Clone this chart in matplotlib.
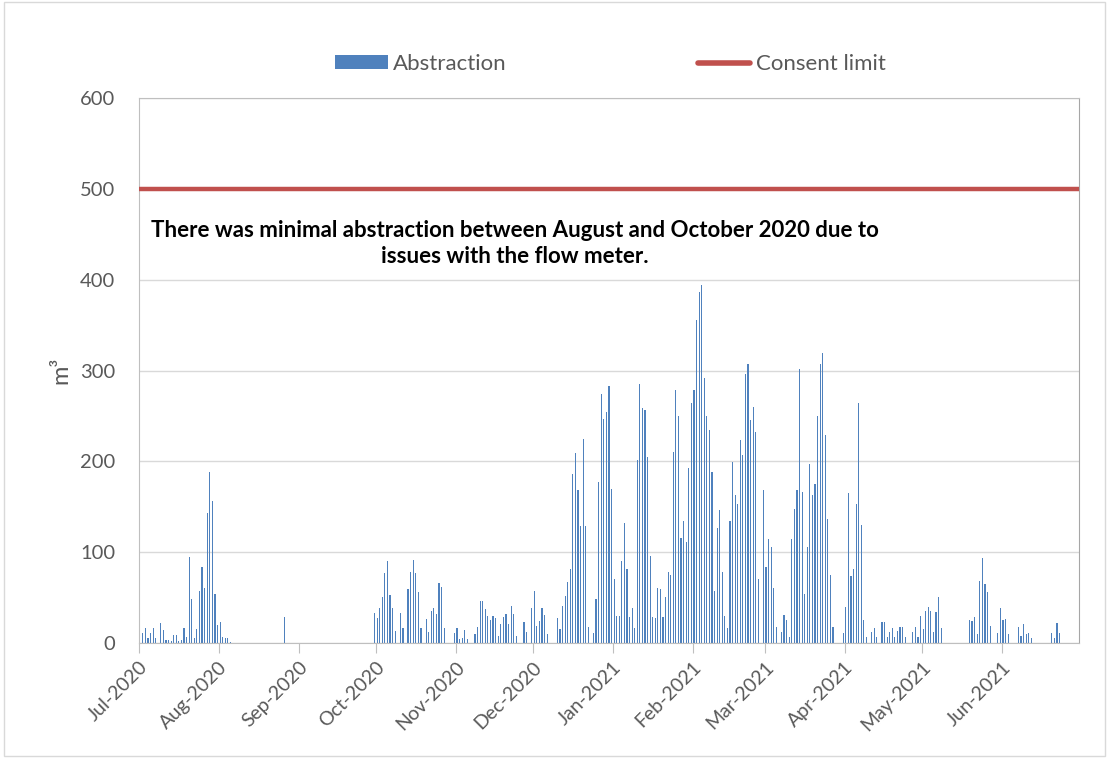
# Daily abstraction vs consent limit, Jul 2020 - Jun 2021

import numpy as np
import pandas as pd
import matplotlib
matplotlib.use("Agg")
import matplotlib.pyplot as plt
import matplotlib.dates as mdates
from matplotlib.patches import Patch, Rectangle
from matplotlib.lines import Line2D

plt.rcParams['font.family'] = ['Lato', 'DejaVu Sans']

# daily abstraction in m3, one list per month
jul_2020 = [0, 11, 17, 5, 11, 17, 5, 0, 22, 14, 3, 3, 2.5, 9, 9, 2.5,
            3, 17, 7, 95, 49, 5, 15, 57, 84, 61, 143, 188, 156, 54, 19.5]
aug_2020 = [23.5, 7, 5, 6, 1.5, 0, 0, 0, 0, 0, 0, 0, 0, 0, 0, 0,
            0, 0, 0, 0, 0, 0, 0, 0, 0, 29, 0, 0, 0, 0, 0]
sep_2020 = [0, 0, 0, 0, 0, 0, 0, 0, 0, 0, 0, 0, 0, 0, 0,
            0, 0, 0, 0, 0, 0, 0, 0, 0, 0, 0, 0, 0, 0, 33]
oct_2020 = [27, 38, 51, 77, 90, 53, 39, 13, 0, 33, 16, 0, 60, 78, 91, 77,
            56, 16, 0, 26, 12, 35, 38, 32, 66, 62, 16, 0, 0, 0, 11]
nov_2020 = [16, 4, 6, 14, 4, 0, 0, 10, 18, 46, 46, 37, 30, 25, 30,
            27, 8, 21, 29, 32, 21, 41, 32, 8, 0, 0, 23, 12, 0, 39]
dec_2020 = [57, 19, 24, 38, 31, 9.5, 0, 0, 0, 28, 15, 41, 52, 67, 81, 186,
            209, 168, 129, 225, 129, 18, 0, 11, 49, 177, 274, 247, 254, 283, 170]
jan_2021 = [70, 30, 30, 90, 132, 81, 29, 39, 16, 201, 285, 259, 256, 205, 96, 29,
            27, 61, 59, 29, 51, 78, 75, 210, 278, 250, 116, 134, 111, 193, 264]
feb_2021 = [278, 356, 386, 394, 292, 250, 234, 188, 57, 127, 146, 78, 30, 17,
            134, 199, 163, 153, 224, 207, 296, 307, 245, 260, 232, 70, 0, 168]
mar_2021 = [84, 114, 106, 61, 18, 0, 12, 31, 25, 7, 114, 148, 168, 302, 166, 54,
            106, 197, 163, 175, 250, 307, 319, 229, 137, 75, 18, 0, 0, 0, 11]
apr_2021 = [40, 165, 74, 81, 153, 264, 130, 25, 7, 0, 12, 17, 7, 0, 23,
            23, 7, 12, 17, 7, 13, 18, 18, 7, 0, 0, 12, 18, 7, 30]
may_2021 = [15, 35, 40, 35, 12, 34, 51, 17, 0, 0, 0, 0, 0, 0, 0, 0,
            0, 0, 25, 24, 29, 10, 68, 94, 65, 56, 19, 0, 0, 11, 39]
jun_2021 = [25, 26, 10, 0, 0, 0, 18, 8, 21, 10, 11, 5, 0, 0, 0,
            0, 0, 0, 0, 11, 5, 22, 11, 0, 0, 0, 0, 0, 0, 0]

consent_limit = 500
note = ("There was minimal abstraction between August and October 2020 due to\n"
        "issues with the flow meter.")

abstraction = np.concatenate([jul_2020, aug_2020, sep_2020, oct_2020, nov_2020, dec_2020,
                              jan_2021, feb_2021, mar_2021, apr_2021, may_2021, jun_2021])
days = pd.date_range("2020-07-01", "2021-06-30", freq="D")
month_starts = pd.date_range("2020-07-01", "2021-06-01", freq="MS")

blue = "#4F81BD"
red = "#C0504D"
grey_txt = "#595959"

fig = plt.figure(figsize=(11.09, 7.58), dpi=100)
ax = fig.add_axes([0.1253, 0.1517, 0.8476, 0.719])

ax.bar(days + pd.Timedelta(hours=12), abstraction, width=0.45, color=blue, linewidth=0)
ax.axhline(consent_limit, color=red, linewidth=3.2, solid_capstyle="butt", zorder=3)

ax.set_xlim(pd.Timestamp("2020-07-01"), pd.Timestamp("2021-07-01"))
ax.set_ylim(0, 600)
ax.set_yticks(range(0, 601, 100))
ax.set_xticks(month_starts)
ax.xaxis.set_major_formatter(mdates.DateFormatter("%b-%Y"))

ax.grid(axis="y", color="#D9D9D9", linewidth=1)
ax.set_axisbelow(True)
for side in ["left", "bottom", "top"]:
    ax.spines[side].set_color("#BFBFBF")
ax.spines["right"].set_color("#A6A6A6")

ax.tick_params(axis="y", length=0, pad=17, labelsize=14.5, labelcolor=grey_txt)
ax.tick_params(axis="x", length=7, color="#BFBFBF", pad=4, labelsize=14, labelcolor=grey_txt)
for lbl in ax.get_xticklabels():
    lbl.set_rotation(45)
    lbl.set_ha("right")
    lbl.set_va("top")
    lbl.set_rotation_mode("anchor")

ax.set_ylabel("m³", fontsize=17, color=grey_txt, labelpad=6)

ax.text(0.4, 0.733, note, transform=ax.transAxes, ha="center", va="center",
        multialignment="center", fontsize=16, fontweight="bold", color="black",
        linespacing=1.3)

handles = [Patch(facecolor=blue, edgecolor="none"),
           Line2D([0], [0], color=red, linewidth=4, solid_capstyle="round")]
fig.legend(handles, ["Abstraction", "Consent limit"], loc="center",
           bbox_to_anchor=(0.5505, 0.9156), ncol=2, frameon=False,
           fontsize=16, labelcolor=grey_txt, handlelength=2.35, handleheight=0.55,
           handletextpad=0.25, columnspacing=8.6)

# chart area border
fig.patches.append(Rectangle((0.004, 0.003), 0.992, 0.994, transform=fig.transFigure,
                             fill=False, edgecolor="#D9D9D9", linewidth=1))

fig.savefig("out.png", dpi=100)
